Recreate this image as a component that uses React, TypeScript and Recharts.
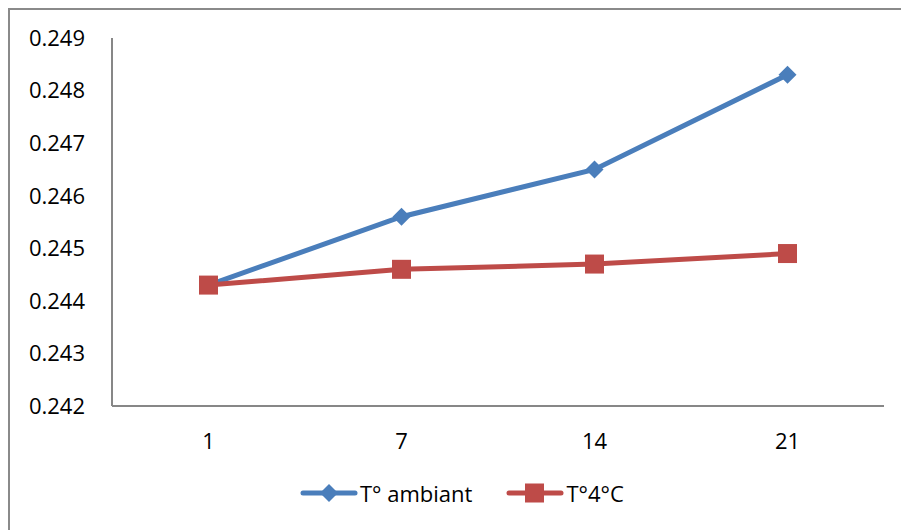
import { LineChart, Line, XAxis, YAxis, Legend } from "recharts";

// days of storage
const DAYS = ["1", "7", "14", "21"];
const AMBIANT = [0.2443, 0.2456, 0.2465, 0.2483];
const FRIDGE = [0.2443, 0.2446, 0.2447, 0.2449];
const Y_TICKS = [0.242, 0.243, 0.244, 0.245, 0.246, 0.247, 0.248, 0.249];

const BLUE = "#4A7EBB";
const RED = "#BE4B48";
const FONT = "'Open Sans', sans-serif";

const data = DAYS.map((d, i) => ({ day: d, ambiant: AMBIANT[i], fridge: FRIDGE[i] }));

const Diamond = (props: any) => {
  const { cx, cy } = props;
  if (cx == null || cy == null) return null;
  const r = 9;
  return (
    <polygon
      points={`${cx},${cy - r} ${cx + r},${cy} ${cx},${cy + r} ${cx - r},${cy}`}
      fill={BLUE}
    />
  );
};

const Square = (props: any) => {
  const { cx, cy } = props;
  if (cx == null || cy == null) return null;
  const s = 9.5;
  return <rect x={cx - s} y={cy - s} width={s * 2} height={s * 2} fill={RED} />;
};

const LegendIcon = ({ color, square }: { color: string; square?: boolean }) => (
  <svg width={58} height={30} style={{ display: "block" }}>
    <line x1={3} y1={15} x2={55} y2={15} stroke={color} strokeWidth={5} strokeLinecap="round" />
    {square ? (
      <rect x={19} y={5.5} width={19} height={19} fill={color} />
    ) : (
      <polygon points="29,6 38,15 29,24 20,15" fill={color} />
    )}
  </svg>
);

const renderLegend = () => (
  <div
    style={{
      display: "flex",
      alignItems: "center",
      height: 30,
      paddingLeft: 290,
      fontFamily: FONT,
      fontSize: 22,
      color: "#000",
    }}
  >
    <LegendIcon color={BLUE} />
    <span style={{ marginLeft: 2, marginRight: 34 }}>T° ambiant</span>
    <LegendIcon color={RED} square />
    <span style={{ marginLeft: 2 }}>T°4°C</span>
  </div>
);

export default function App() {
  // outer frame runs past the right and bottom edges of the picture
  return (
    <div
      style={{
        position: "fixed",
        left: 8,
        top: 8,
        width: 900,
        height: 530,
        borderLeft: "2px solid #8a8a8a",
        borderTop: "2px solid #8a8a8a",
        background: "#fff",
      }}
    >
      <LineChart
        width={891}
        height={520}
        data={data}
        margin={{ top: 28, right: 17, bottom: 22, left: 0 }}
      >
        <XAxis
          dataKey="day"
          scale="band"
          height={72}
          tickLine={false}
          axisLine={{ stroke: "#878787", strokeWidth: 2 }}
          tick={{ fill: "#000", fontSize: 22, fontFamily: FONT }}
          tickMargin={21}
        />
        <YAxis
          width={102}
          domain={[0.242, 0.249]}
          ticks={Y_TICKS}
          interval={0}
          tickFormatter={(v: number) => v.toFixed(3)}
          tickLine={false}
          axisLine={{ stroke: "#878787", strokeWidth: 2 }}
          tick={{ fill: "#000", fontSize: 22, fontFamily: FONT }}
          tickMargin={21}
        />
        <Legend verticalAlign="bottom" content={renderLegend} />
        <Line
          dataKey="ambiant"
          stroke={BLUE}
          strokeWidth={5}
          dot={<Diamond />}
          activeDot={false}
          isAnimationActive={false}
        />
        <Line
          dataKey="fridge"
          stroke={RED}
          strokeWidth={5}
          dot={<Square />}
          activeDot={false}
          isAnimationActive={false}
        />
      </LineChart>
    </div>
  );
}
